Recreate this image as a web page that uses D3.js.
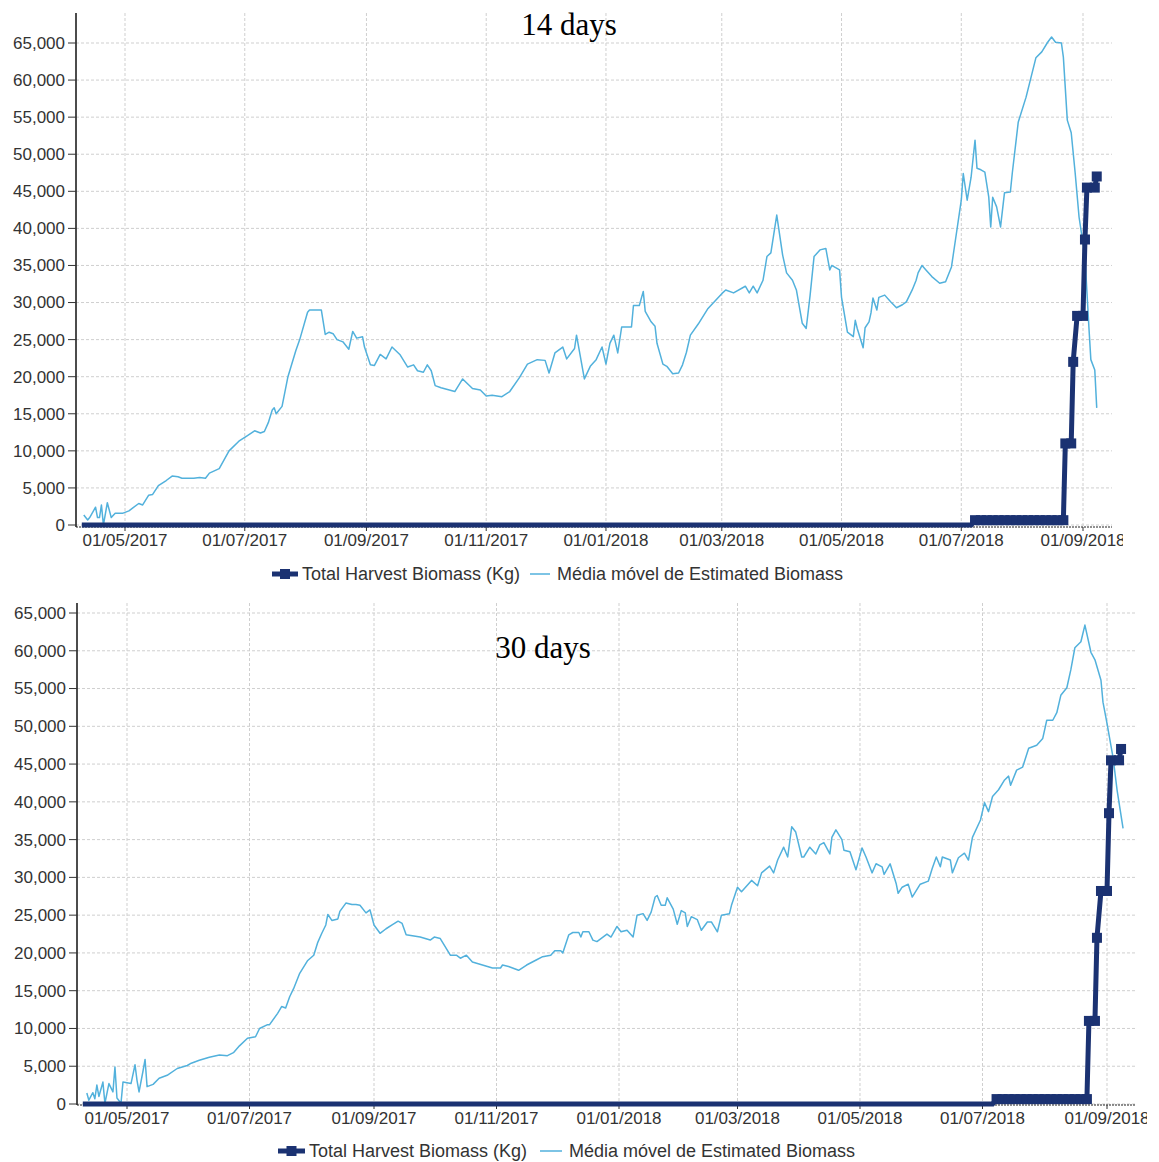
<!DOCTYPE html>
<html><head><meta charset="utf-8">
<script src="https://cdn.jsdelivr.net/npm/d3@7"></script>
<style>body{margin:0;background:#fff} svg{display:block}</style>
</head><body>
<svg id="c" width="1159" height="1162"></svg>
<script>
const titles = ["14 days", "30 days"];
const seriesNames = ["Total Harvest Biomass (Kg)", "Média móvel de Estimated Biomass"];
const yTickValues = [0,5000,10000,15000,20000,25000,30000,35000,40000,45000,50000,55000,60000,65000];
const xTickDates = ["2017-05-01","2017-07-01","2017-09-01","2017-11-01","2018-01-01","2018-03-01","2018-05-01","2018-07-01","2018-09-01"];

const harvestDates = ["2017-04-09","2018-07-06","2018-07-08","2018-07-11","2018-07-14","2018-07-17","2018-07-20","2018-07-23","2018-07-26","2018-07-29","2018-08-01","2018-08-04","2018-08-07","2018-08-10","2018-08-13","2018-08-16","2018-08-19","2018-08-22","2018-08-23","2018-08-26","2018-08-27","2018-08-29","2018-09-01","2018-09-02","2018-09-03","2018-09-07","2018-09-08"];
const harvestValues = [0,0,650,650,650,650,650,650,650,650,650,650,650,650,650,650,650,650,11000,11000,22000,28200,28200,38500,45500,45500,47000];

const ma14Dates = ["2017-04-10","2017-04-12","2017-04-13","2017-04-16","2017-04-17","2017-04-18","2017-04-19","2017-04-20","2017-04-22","2017-04-24","2017-04-26","2017-04-30","2017-05-03","2017-05-05","2017-05-08","2017-05-10","2017-05-13","2017-05-15","2017-05-18","2017-05-22","2017-05-25","2017-05-28","2017-05-30","2017-06-05","2017-06-08","2017-06-11","2017-06-13","2017-06-18","2017-06-23","2017-06-28","2017-07-02","2017-07-06","2017-07-09","2017-07-11","2017-07-13","2017-07-15","2017-07-16","2017-07-17","2017-07-20","2017-07-23","2017-07-27","2017-07-29","2017-08-02","2017-08-03","2017-08-09","2017-08-11","2017-08-13","2017-08-15","2017-08-17","2017-08-20","2017-08-23","2017-08-25","2017-08-27","2017-08-30","2017-08-31","2017-09-03","2017-09-05","2017-09-08","2017-09-11","2017-09-14","2017-09-18","2017-09-22","2017-09-25","2017-09-27","2017-09-30","2017-10-02","2017-10-04","2017-10-06","2017-10-09","2017-10-16","2017-10-20","2017-10-25","2017-10-29","2017-11-01","2017-11-04","2017-11-09","2017-11-13","2017-11-18","2017-11-22","2017-11-27","2017-12-01","2017-12-03","2017-12-06","2017-12-10","2017-12-12","2017-12-16","2017-12-17","2017-12-21","2017-12-24","2017-12-27","2017-12-30","2018-01-01","2018-01-03","2018-01-05","2018-01-07","2018-01-09","2018-01-14","2018-01-15","2018-01-18","2018-01-20","2018-01-21","2018-01-24","2018-01-26","2018-01-27","2018-01-30","2018-02-01","2018-02-04","2018-02-07","2018-02-09","2018-02-11","2018-02-13","2018-02-17","2018-02-22","2018-03-01","2018-03-03","2018-03-07","2018-03-13","2018-03-15","2018-03-17","2018-03-19","2018-03-22","2018-03-24","2018-03-26","2018-03-29","2018-04-01","2018-04-03","2018-04-06","2018-04-08","2018-04-11","2018-04-13","2018-04-15","2018-04-17","2018-04-20","2018-04-23","2018-04-25","2018-04-26","2018-04-30","2018-05-01","2018-05-04","2018-05-07","2018-05-08","2018-05-09","2018-05-12","2018-05-13","2018-05-15","2018-05-16","2018-05-17","2018-05-19","2018-05-20","2018-05-23","2018-05-26","2018-05-29","2018-06-01","2018-06-03","2018-06-06","2018-06-08","2018-06-09","2018-06-11","2018-06-13","2018-06-16","2018-06-20","2018-06-23","2018-06-26","2018-06-28","2018-07-01","2018-07-02","2018-07-04","2018-07-06","2018-07-08","2018-07-09","2018-07-11","2018-07-13","2018-07-15","2018-07-16","2018-07-17","2018-07-19","2018-07-21","2018-07-23","2018-07-26","2018-07-27","2018-07-30","2018-08-03","2018-08-08","2018-08-11","2018-08-14","2018-08-16","2018-08-18","2018-08-21","2018-08-22","2018-08-24","2018-08-26","2018-08-28","2018-08-30","2018-09-02","2018-09-04","2018-09-05","2018-09-07","2018-09-08"];
const ma14Values = [1350,670,1000,2400,1000,1000,2700,0,3000,1000,1600,1600,1900,2300,2900,2700,4000,4100,5300,6000,6600,6500,6300,6300,6400,6300,7000,7600,10000,11300,12000,12700,12400,12600,13800,15500,15800,15000,16000,20000,23500,25000,28700,29000,29000,25700,26000,25800,25000,24700,23700,26100,25200,25400,24000,21600,21500,23000,22400,24000,23000,21300,21600,20800,20600,21600,20800,18800,18500,18000,19700,18400,18200,17400,17500,17300,18000,19900,21700,22300,22200,20500,23200,24000,22400,23800,25600,19700,21400,22300,24000,21700,24500,25600,23200,26700,26700,29600,29600,31500,28800,27400,26800,24500,21700,21400,20400,20500,21600,23300,25600,27100,29200,31200,31700,31300,32200,31300,32200,31300,33000,36200,36700,41800,36400,34000,33000,31700,27200,26500,31000,36200,37100,37300,34400,35000,34400,30700,26000,25400,27600,26500,23900,26600,27400,28600,30600,29000,30700,31000,30100,29300,29700,30100,31700,33000,34000,35000,34400,33500,32600,32800,34800,38400,43800,47400,43800,46900,51900,48100,47900,47600,44200,40200,44200,42900,40200,44800,44900,47500,54300,57700,63000,63800,65100,65800,65100,65000,63100,54600,52900,47500,41500,36200,26700,22300,20900,15800];

const ma30Dates = ["2017-04-11","2017-04-12","2017-04-14","2017-04-15","2017-04-16","2017-04-17","2017-04-19","2017-04-20","2017-04-22","2017-04-24","2017-04-25","2017-04-26","2017-04-28","2017-04-29","2017-05-01","2017-05-03","2017-05-05","2017-05-06","2017-05-07","2017-05-09","2017-05-10","2017-05-11","2017-05-14","2017-05-17","2017-05-21","2017-05-26","2017-05-31","2017-06-02","2017-06-06","2017-06-11","2017-06-16","2017-06-20","2017-06-23","2017-06-26","2017-06-30","2017-07-04","2017-07-06","2017-07-10","2017-07-11","2017-07-15","2017-07-17","2017-07-19","2017-07-21","2017-07-23","2017-07-26","2017-07-30","2017-08-02","2017-08-04","2017-08-06","2017-08-08","2017-08-09","2017-08-11","2017-08-14","2017-08-15","2017-08-18","2017-08-21","2017-08-23","2017-08-25","2017-08-28","2017-08-30","2017-09-01","2017-09-04","2017-09-07","2017-09-10","2017-09-13","2017-09-15","2017-09-17","2017-09-24","2017-09-29","2017-10-01","2017-10-04","2017-10-09","2017-10-12","2017-10-14","2017-10-17","2017-10-20","2017-10-25","2017-10-30","2017-11-03","2017-11-04","2017-11-07","2017-11-12","2017-11-16","2017-11-21","2017-11-24","2017-11-28","2017-11-30","2017-12-03","2017-12-04","2017-12-07","2017-12-09","2017-12-12","2017-12-13","2017-12-14","2017-12-17","2017-12-19","2017-12-21","2017-12-24","2017-12-26","2017-12-28","2017-12-31","2018-01-02","2018-01-05","2018-01-08","2018-01-10","2018-01-13","2018-01-15","2018-01-17","2018-01-19","2018-01-20","2018-01-22","2018-01-24","2018-01-25","2018-01-28","2018-01-30","2018-02-01","2018-02-03","2018-02-04","2018-02-06","2018-02-09","2018-02-11","2018-02-14","2018-02-16","2018-02-19","2018-02-21","2018-02-25","2018-02-26","2018-03-01","2018-03-03","2018-03-05","2018-03-08","2018-03-11","2018-03-13","2018-03-17","2018-03-19","2018-03-21","2018-03-24","2018-03-26","2018-03-28","2018-03-30","2018-04-02","2018-04-03","2018-04-06","2018-04-09","2018-04-11","2018-04-13","2018-04-16","2018-04-17","2018-04-19","2018-04-22","2018-04-23","2018-04-26","2018-04-29","2018-05-02","2018-05-04","2018-05-07","2018-05-09","2018-05-12","2018-05-13","2018-05-16","2018-05-19","2018-05-20","2018-05-22","2018-05-25","2018-05-27","2018-05-31","2018-06-04","2018-06-06","2018-06-08","2018-06-10","2018-06-11","2018-06-15","2018-06-16","2018-06-19","2018-06-22","2018-06-24","2018-06-26","2018-06-30","2018-07-02","2018-07-04","2018-07-06","2018-07-09","2018-07-12","2018-07-14","2018-07-15","2018-07-18","2018-07-21","2018-07-24","2018-07-28","2018-07-31","2018-08-02","2018-08-05","2018-08-07","2018-08-09","2018-08-12","2018-08-14","2018-08-16","2018-08-19","2018-08-21","2018-08-24","2018-08-26","2018-08-29","2018-08-30","2018-09-01","2018-09-04","2018-09-06","2018-09-09"];
const ma30Values = [1450,500,1500,700,2500,1000,2900,100,2700,1600,4900,800,100,2900,2800,2700,5200,3100,1600,4400,5900,2300,2600,3400,3800,4700,5100,5400,5800,6200,6500,6400,6800,7700,8700,8900,10000,10500,10500,12000,12900,12700,14200,15300,17300,19000,19700,21400,22600,23700,25100,24300,24500,25500,26600,26400,26400,26300,25300,25700,23700,22600,23200,23700,24200,23900,22400,22100,21700,22100,21900,19700,19700,19300,19700,18800,18400,18000,18000,18400,18200,17700,18400,19100,19500,19700,20300,20300,20000,22400,22700,22700,22100,22800,22800,21700,21500,22100,22500,22100,23500,22800,23000,22100,25000,25200,24300,25400,27400,27600,26300,26300,27300,25800,23800,25600,25300,23500,24800,24400,23000,24100,24100,22800,25000,25200,26300,28700,28100,28700,29600,28900,30600,31500,30600,32300,34000,32700,36700,36000,32700,32700,34000,33100,34300,34600,33100,35300,36300,35000,33600,33400,31000,33900,32700,30600,31800,31400,30400,31800,29200,27900,28700,29100,27400,29100,29500,31200,32700,31400,32700,32300,30600,32600,33200,32300,35300,37600,39900,38700,40700,41600,42900,43400,42200,44200,44600,47100,47500,48400,50800,50800,51800,54100,55100,57500,60400,61200,63400,59800,58800,56100,53200,50400,45900,41600,36500];

const parse = d3.timeParse("%Y-%m-%d");
const fmtX = d3.timeFormat("%d/%m/%Y");
const fmtY = d3.format(",");
const svg = d3.select("#c");

const panels = [
  {title: titles[0], dates: ma14Dates, values: ma14Values,
   left: 76, right: 1112, top: 13, bottom: 527, y0: 525, y65: 43, xA: 125, xB: 1083, clipR: 1123,
   titleX: 569, titleY: 35, legendY: 574, leg: [272, 298, 302, 530, 550, 557]},
  {title: titles[1], dates: ma30Dates, values: ma30Values,
   left: 77, right: 1135, top: 603, bottom: 1105, y0: 1104, y65: 613, xA: 127, xB: 1107, clipR: 1147,
   titleX: 543, titleY: 658, legendY: 1151, leg: [278, 305, 309, 540, 562, 569]}
];

const NAVY = "#1b3272", BLUE = "#52b1dc", FONT = "'Liberation Sans', Arial, sans-serif";
const defs = svg.append("defs");

panels.forEach((p, pi) => {
  const g = svg.append("g");
  const x = d3.scaleTime().domain([parse(xTickDates[0]), parse(xTickDates[xTickDates.length - 1])]).range([p.xA, p.xB]);
  const y = d3.scaleLinear().domain([0, 65000]).range([p.y0, p.y65]);

  defs.append("clipPath").attr("id", "lblclip" + pi).append("rect")
    .attr("x", 0).attr("y", p.bottom).attr("width", p.clipR).attr("height", 40);

  // grid
  g.append("g").selectAll("line").data(yTickValues).join("line")
    .attr("x1", p.left).attr("x2", p.right).attr("y1", d => y(d)).attr("y2", d => y(d))
    .attr("stroke", "#cfcfcf").attr("stroke-width", 1).attr("stroke-dasharray", "3,2");
  g.append("g").selectAll("line").data(xTickDates).join("line")
    .attr("x1", d => x(parse(d))).attr("x2", d => x(parse(d))).attr("y1", p.top).attr("y2", p.bottom)
    .attr("stroke", "#cfcfcf").attr("stroke-width", 1).attr("stroke-dasharray", "3,2");

  // axes
  g.append("line").attr("x1", p.left).attr("x2", p.left).attr("y1", p.top).attr("y2", p.bottom)
    .attr("stroke", "#111").attr("stroke-width", 1.5);
  g.append("line").attr("x1", p.left).attr("x2", p.right).attr("y1", p.bottom).attr("y2", p.bottom)
    .attr("stroke", "#222").attr("stroke-width", 1).attr("stroke-dasharray", "2,1");
  g.append("g").selectAll("line").data(yTickValues).join("line")
    .attr("x1", p.left - 8).attr("x2", p.left).attr("y1", d => y(d)).attr("y2", d => y(d))
    .attr("stroke", "#333").attr("stroke-width", 1);
  g.append("g").selectAll("line").data(xTickDates).join("line")
    .attr("x1", d => x(parse(d))).attr("x2", d => x(parse(d))).attr("y1", p.bottom).attr("y2", p.bottom + 4)
    .attr("stroke", "#333").attr("stroke-width", 1);
  g.append("g").selectAll("text").data(yTickValues).join("text")
    .attr("x", p.left - 11).attr("y", d => y(d)).attr("dy", "0.35em")
    .attr("text-anchor", "end").attr("font-family", FONT).attr("font-size", 17).attr("fill", "#333")
    .text(d => fmtY(d));
  g.append("g").attr("clip-path", "url(#lblclip" + pi + ")").selectAll("text").data(xTickDates).join("text")
    .attr("x", d => x(parse(d))).attr("y", p.bottom + 19)
    .attr("text-anchor", "middle").attr("font-family", FONT).attr("font-size", 17).attr("fill", "#333")
    .text(d => fmtX(parse(d)));

  // moving average line
  const ma = p.dates.map((d, i) => ({date: parse(d), v: p.values[i]}));
  g.append("path").datum(ma)
    .attr("d", d3.line().x(d => x(d.date)).y(d => y(d.v)))
    .attr("fill", "none").attr("stroke", BLUE).attr("stroke-width", 1.5).attr("stroke-linejoin", "round");

  // harvest line
  const hv = harvestDates.map((d, i) => ({date: parse(d), v: harvestValues[i]}));
  g.append("path").datum(hv)
    .attr("d", d3.line().x(d => x(d.date)).y(d => y(d.v)))
    .attr("fill", "none").attr("stroke", NAVY).attr("stroke-width", 5);
  g.append("g").selectAll("rect").data(hv.filter(d => d.v > 0)).join("rect")
    .attr("x", d => x(d.date) - 5).attr("y", d => y(d.v) - 5).attr("width", 10).attr("height", 10)
    .attr("fill", NAVY);

  // title
  g.append("text").attr("x", p.titleX).attr("y", p.titleY).attr("text-anchor", "middle")
    .attr("font-family", "'Liberation Serif', 'Times New Roman', serif").attr("font-size", 31).attr("fill", "#000")
    .text(p.title);

  // legend
  const L = p.leg, ly = p.legendY;
  g.append("line").attr("x1", L[0]).attr("x2", L[1]).attr("y1", ly).attr("y2", ly)
    .attr("stroke", NAVY).attr("stroke-width", 5);
  g.append("rect").attr("x", (L[0] + L[1]) / 2 - 5).attr("y", ly - 5).attr("width", 10).attr("height", 10).attr("fill", NAVY);
  g.append("text").attr("x", L[2]).attr("y", ly).attr("dy", "0.35em")
    .attr("font-family", FONT).attr("font-size", 18).attr("fill", "#333").text(seriesNames[0]);
  g.append("line").attr("x1", L[3]).attr("x2", L[4]).attr("y1", ly).attr("y2", ly)
    .attr("stroke", BLUE).attr("stroke-width", 1.5);
  g.append("text").attr("x", L[5]).attr("y", ly).attr("dy", "0.35em")
    .attr("font-family", FONT).attr("font-size", 18).attr("fill", "#333").text(seriesNames[1]);
});
</script>
</body></html>
